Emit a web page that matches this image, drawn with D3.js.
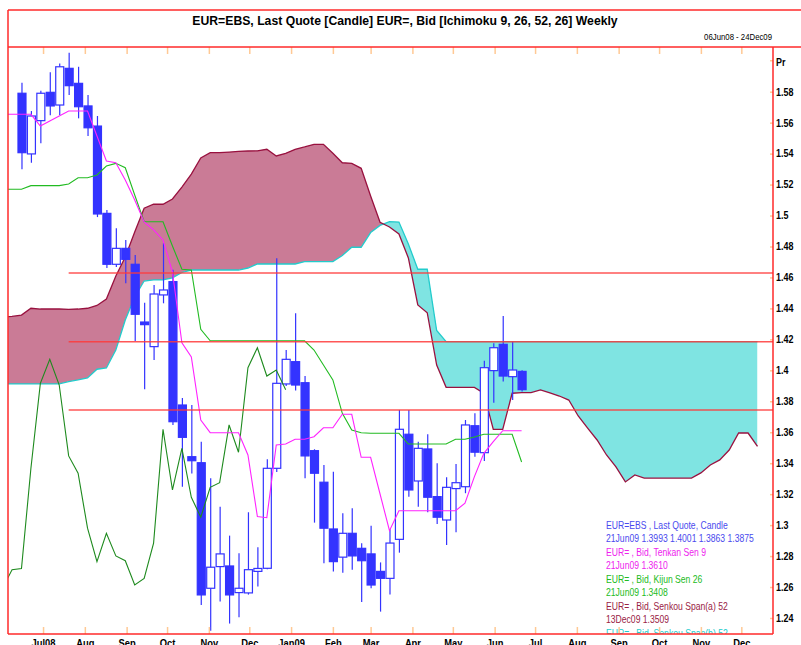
<!DOCTYPE html>
<html><head><meta charset="utf-8">
<script src="https://cdn.jsdelivr.net/npm/d3@7"></script>
<style>
body{margin:0;background:#fff}
svg{display:block}
text{font-family:'Liberation Sans',Arial,sans-serif}
</style>
</head><body>
<svg id="c" width="801" height="645"></svg>
<script>
// ---------- DATA ----------
const titleText = "EUR=EBS, Last Quote [Candle] EUR=, Bid [Ichimoku 9, 26, 52, 26] Weekly";
const rangeText = "06Jun08 - 24Dec09";
const firstCandle = "2008-06-15";      // weekly candles
const firstIndicator = "2008-06-01";   // indicator series start (two weeks earlier)
const chikouShift = 25;                // lagging span plotted 25 weeks back

const candleOpen  = [1.5790,1.5398,1.5613,1.5796,1.5714,1.5951,1.5854,1.5708,1.5578,1.5014,1.4685,1.4788,1.4685,1.4312,1.4153,1.4487,1.4573,1.3776,1.3442,1.3403,1.2592,1.2732,1.2736,1.2564,1.2562,1.2701,1.2721,1.3367,1.3912,1.4056,1.3920,1.3481,1.3277,1.2975,1.2793,1.2947,1.2850,1.2814,1.2701,1.2656,1.2908,1.3587,1.3285,1.3492,1.3184,1.3033,1.3236,1.3248,1.3642,1.3468,1.3998,1.4168,1.3959,1.3993];
const candleHigh  = [1.5858,1.5675,1.5806,1.5925,1.5983,1.6052,1.5961,1.5779,1.5643,1.5036,1.4918,1.4842,1.4745,1.4437,1.4551,1.4821,1.4649,1.3821,1.3776,1.3539,1.3302,1.3119,1.2932,1.2818,1.3083,1.2857,1.3425,1.4724,1.4131,1.4368,1.3963,1.3490,1.3388,1.3345,1.3076,1.3109,1.2883,1.2996,1.2759,1.2973,1.3744,1.3744,1.3539,1.3587,1.3399,1.3309,1.3395,1.3679,1.3722,1.4062,1.4175,1.4351,1.4185,1.4001];
const candleLow   = [1.5299,1.5341,1.5467,1.5648,1.5649,1.5779,1.5628,1.5514,1.4990,1.4661,1.4668,1.4562,1.4190,1.3878,1.4067,1.4433,1.3647,1.3248,1.3334,1.2484,1.2318,1.2506,1.2364,1.2405,1.2551,1.2603,1.2715,1.3343,1.3899,1.3870,1.3303,1.3016,1.2753,1.2700,1.2693,1.2711,1.2503,1.2592,1.2441,1.2551,1.2822,1.3184,1.3119,1.3083,1.3007,1.2872,1.2954,1.3206,1.3442,1.3414,1.3791,1.3927,1.3808,1.3863];
const candleClose = [1.5406,1.5643,1.5790,1.5708,1.5961,1.5839,1.5703,1.5567,1.5010,1.4685,1.4788,1.4717,1.4362,1.4295,1.4493,1.4519,1.3668,1.3567,1.3416,1.2549,1.2728,1.2814,1.2549,1.2592,1.2712,1.2720,1.3367,1.3916,1.4071,1.3905,1.3447,1.3335,1.2980,1.2764,1.2947,1.2801,1.2770,1.2613,1.2656,1.2884,1.3619,1.3227,1.3496,1.3180,1.3051,1.3244,1.3274,1.3647,1.3471,1.4017,1.4146,1.3963,1.4002,1.3875];

// Indicators, weekly from 2008-06-01
const tenkan = [1.5654,1.5654,1.5654,1.5654,1.5578,1.5611,1.5643,1.5675,1.5675,1.5675,
  1.5514,1.5352,1.5341,1.5230,1.5100,1.4958,1.4907,1.4842,1.4635,1.4177,
  1.4086,1.3679,1.3597,1.3597,1.3597,1.3597,1.3453,1.3055,1.3048,1.3518,
  1.3524,1.3555,1.3555,1.3571,1.3629,1.3629,1.3716,1.3716,1.3438,1.3438,
  1.3201,1.2964,1.3093,1.3093,1.3093,1.3093,1.3093,1.3093,1.3093,1.3141,
  1.3313,1.3464,1.3539,1.3610,1.3610,1.3610];
const kijun = [1.5170,1.5170,1.5170,1.5193,1.5193,1.5193,1.5193,1.5204,1.5244,1.5244,
  1.5262,1.5320,1.5337,1.5309,1.5133,1.4960,1.4960,1.4960,1.4803,1.4653,
  1.4648,1.4265,1.4191,1.4191,1.4191,1.4191,1.4191,1.4191,1.4191,1.4191,
  1.4191,1.4191,1.4191,1.4131,1.4034,1.3938,1.3722,1.3615,1.3597,1.3593,
  1.3593,1.3593,1.3593,1.3524,1.3524,1.3524,1.3524,1.3524,1.3555,1.3555,
  1.3569,1.3587,1.3587,1.3587,1.3587,1.3408];
const spanA = [1.4345,1.4348,1.4357,1.4401,1.4396,1.4396,1.4396,1.4394,1.4396,1.4401,
  1.4419,1.4461,1.4609,1.4732,1.4894,1.5047,1.5073,1.5073,1.5107,1.5184,
  1.5268,1.5372,1.5406,1.5407,1.5410,1.5414,1.5417,1.5418,1.5428,1.5385,
  1.5402,1.5428,1.5443,1.5460,1.5460,1.5402,1.5341,1.5337,1.5305,1.5126,
  1.4956,1.4926,1.4881,1.4726,1.4422,1.4372,1.4034,1.3890,1.3890,1.3890,
  1.3890,1.3852,1.3619,1.3619,1.3852,1.3856,1.3856,1.3873,1.3854,1.3834,
  1.3808,1.3705,1.3627,1.3550,1.3453,1.3376,1.3279,1.3324,1.3304,1.3304,
  1.3304,1.3304,1.3304,1.3304,1.3337,1.3388,1.3421,1.3485,1.3595,1.3595,
  1.3509];
const spanB = [1.3912,1.3912,1.3912,1.3912,1.3912,1.3912,1.3912,1.3927,1.3938,1.3951,
  1.4007,1.4015,1.4131,1.4325,1.4474,1.4577,1.4584,1.4584,1.4597,1.4632,
  1.4648,1.4648,1.4648,1.4648,1.4648,1.4648,1.4661,1.4687,1.4687,1.4687,
  1.4687,1.4687,1.4702,1.4702,1.4702,1.4702,1.4742,1.4795,1.4795,1.4890,
  1.4936,1.4960,1.4958,1.4816,1.4653,1.4653,1.4257,1.4185,1.4185,1.4185,
  1.4185,1.4185,1.4185,1.4185,1.4185,1.4185,1.4185,1.4185,1.4185,1.4185,
  1.4185,1.4185,1.4185,1.4185,1.4185,1.4185,1.4185,1.4185,1.4185,1.4185,
  1.4185,1.4185,1.4185,1.4185,1.4185,1.4185,1.4185,1.4185,1.4185,1.4185,
  1.4185];

const levelLines = [1.4629, 1.4185, 1.3744];
const levelStart = "2008-07-20";

const priceTicks = [1.24,1.26,1.28,1.30,1.32,1.34,1.36,1.38,1.40,1.42,1.44,1.46,1.48,1.50,1.52,1.54,1.56,1.58];
const priceLabels = ["1.24","1.26","1.28","1.3","1.32","1.34","1.36","1.38","1.4","1.42","1.44","1.46","1.48","1.5","1.52","1.54","1.56","1.58"];
const monthTicks = ["2008-07-01","2008-08-01","2008-09-01","2008-10-01","2008-11-01","2008-12-01","2009-01-01","2009-02-01","2009-03-01","2009-04-01","2009-05-01","2009-06-01","2009-07-01","2009-08-01","2009-09-01","2009-10-01","2009-11-01","2009-12-01"];
const monthLabels = ["Jul08","Aug","Sep","Oct","Nov","Dec","Jan09","Feb","Mar","Apr","May","Jun","Jul","Aug","Sep","Oct","Nov","Dec"];

const legendLines = [
  ["EUR=EBS , Last Quote, Candle", "#4a4aee"],
  ["21Jun09 1.3993 1.4001 1.3863 1.3875", "#4a4aee"],
  ["EUR= , Bid, Tenkan Sen 9", "#ee22ee"],
  ["21Jun09 1.3610", "#ee22ee"],
  ["EUR= , Bid, Kijun Sen 26", "#22bb22"],
  ["21Jun09 1.3408", "#22bb22"],
  ["EUR= , Bid, Senkou Span(a) 52", "#992244"],
  ["13Dec09 1.3509", "#992244"],
  ["EUR= , Bid, Senkou Span(b) 52", "#22cccc"]
];

// ---------- CHART ----------
const svg = d3.select("#c");
const P = {l:8, r:773, t:47, b:634};
const parse = d3.timeParse("%Y-%m-%d");
const x = d3.scaleTime().domain([new Date(2008,5,5), new Date(2009,11,24,12)]).range([P.l, P.r]);
const y = d3.scaleLinear().domain([1.22965, 1.60888]).range([P.b, P.t]);

// horizontally condense text (narrow face look)
function squeeze(sel, sx){
  sel.each(function(){
    const t = d3.select(this);
    const tx = +t.attr("x") || 0, ty = +t.attr("y") || 0;
    t.attr("transform", `translate(${tx},${ty}) scale(${sx},1)`).attr("x",0).attr("y",0);
  });
}

const c0 = parse(firstCandle), i0 = parse(firstIndicator);
const candles = candleOpen.map((o,i)=>({d:d3.timeWeek.offset(c0,i), o, h:candleHigh[i], l:candleLow[i], c:candleClose[i]}));
const ind = (arr)=>arr.map((v,i)=>({d:d3.timeWeek.offset(i0,i), v}));
const cloud = spanA.map((a,i)=>({d:d3.timeWeek.offset(i0,i), a, b:spanB[i]}));
const chikou = candles.map(k=>({d:d3.timeWeek.offset(k.d,-chikouShift), v:k.c}));

const defs = svg.append("defs");
defs.append("clipPath").attr("id","plotClip").append("rect")
  .attr("x",P.l).attr("y",P.t).attr("width",P.r-P.l).attr("height",P.b-P.t);
defs.append("clipPath").attr("id","aboveB").append("path")
  .attr("d", d3.area().x(d=>x(d.d)).y0(0).y1(d=>y(d.b))(cloud));
defs.append("clipPath").attr("id","aboveA").append("path")
  .attr("d", d3.area().x(d=>x(d.d)).y0(0).y1(d=>y(d.a))(cloud));

const g = svg.append("g").attr("clip-path","url(#plotClip)");

// cloud
const between = d3.area().x(d=>x(d.d)).y0(d=>y(d.b)).y1(d=>y(d.a));
g.append("path").attr("d",between(cloud)).attr("fill","#ca7b96").attr("clip-path","url(#aboveB)");
g.append("path").attr("d",between(cloud)).attr("fill","#7fe4e2").attr("clip-path","url(#aboveA)");
g.append("path").attr("d",d3.line().x(d=>x(d.d)).y(d=>y(d.b))(cloud))
  .attr("fill","none").attr("stroke","#22cccc").attr("stroke-width",1.3);
g.append("path").attr("d",d3.line().x(d=>x(d.d)).y(d=>y(d.a))(cloud))
  .attr("fill","none").attr("stroke","#99113f").attr("stroke-width",1.3);

// candles
const bw = 8;
const cg = g.append("g");
cg.selectAll("line.wick").data(candles).join("line")
  .attr("x1",d=>x(d.d)+0.5).attr("x2",d=>x(d.d)+0.5)
  .attr("y1",d=>y(d.h)).attr("y2",d=>y(d.l))
  .attr("stroke","#3333ff").attr("stroke-width",1.2);
cg.selectAll("rect.body").data(candles).join("rect")
  .attr("x",d=>x(d.d)+0.5-bw/2).attr("width",bw)
  .attr("y",d=>y(Math.max(d.o,d.c))).attr("height",d=>Math.max(1,Math.abs(y(d.o)-y(d.c))))
  .attr("fill",d=>d.c<d.o?"#3333ff":"#ffffff")
  .attr("stroke","#3333ff").attr("stroke-width",1.2);

// lines
const ln = d3.line().x(d=>x(d.d)).y(d=>y(d.v));
g.append("path").attr("d",ln(chikou)).attr("fill","none").attr("stroke","#1e8a1e").attr("stroke-width",1.1);
g.append("path").attr("d",ln(ind(kijun))).attr("fill","none").attr("stroke","#22bb22").attr("stroke-width",1.1);
g.append("path").attr("d",ln(ind(tenkan))).attr("fill","none").attr("stroke","#ff22ff").attr("stroke-width",1.1);

// level lines
g.selectAll("line.lvl").data(levelLines).join("line")
  .attr("x1",x(parse(levelStart))).attr("x2",P.r)
  .attr("y1",d=>y(d)).attr("y2",d=>y(d))
  .attr("stroke","#ff3a3a").attr("stroke-opacity",0.85).attr("stroke-width",1.5);

// legend
const lg = g.selectAll("text.lg").data(legendLines).join("text")
  .attr("x",606).attr("y",(d,i)=>528.5+i*13.5)
  .attr("fill",d=>d[1]).attr("font-size","10.5px").text(d=>d[0]);
squeeze(lg, 0.82);

// axes
const tickCol = "#ffc995";
const yAxis = d3.axisRight(y).tickValues(priceTicks).tickFormat((d,i)=>priceLabels[i]).tickSize(-3).tickPadding(3);
const ya = svg.append("g").attr("transform",`translate(${P.r},0)`).call(yAxis);
ya.select(".domain").remove();
ya.selectAll("line").attr("stroke",tickCol).attr("stroke-width",1.5);
ya.selectAll("text").attr("font-size","10.5px").attr("font-weight","bold").attr("fill","#000").attr("font-family","'Liberation Sans',Arial,sans-serif");
squeeze(ya.selectAll("text"), 0.85);
const pr = svg.append("text").attr("x",P.r+3).attr("y",y(1.60)+5).attr("font-size","10.5px").attr("font-weight","bold").text("Pr");
squeeze(pr, 0.85);
svg.append("line").attr("x1",P.r-3).attr("x2",P.r).attr("y1",y(1.60)).attr("y2",y(1.60)).attr("stroke",tickCol).attr("stroke-width",1.5);

const mDates = monthTicks.map(parse);
const xa = svg.append("g").attr("transform",`translate(0,${P.b})`)
  .call(d3.axisBottom(x).tickValues(mDates).tickFormat((d,i)=>monthLabels[i]).tickSize(-7).tickPadding(5));
xa.select(".domain").remove();
xa.selectAll("line").attr("stroke",tickCol).attr("stroke-width",1.5);
xa.selectAll("text").attr("font-size","11px").attr("font-weight","bold").attr("fill","#000").attr("font-family","'Liberation Sans',Arial,sans-serif");
squeeze(xa.selectAll("text"), 0.85);
const xt = svg.append("g").attr("transform",`translate(0,${P.t})`)
  .call(d3.axisTop(x).tickValues(mDates).tickFormat("").tickSize(-7));
xt.select(".domain").remove();
xt.selectAll("line").attr("stroke",tickCol).attr("stroke-width",1.5);

// frames
const red = "#ff2a2a";
svg.append("line").attr("x1",P.l).attr("x2",801).attr("y1",10).attr("y2",10).attr("stroke",red).attr("stroke-width",1.5);
svg.append("line").attr("x1",P.l).attr("x2",801).attr("y1",P.t).attr("y2",P.t).attr("stroke",red).attr("stroke-width",1.5);
svg.append("line").attr("x1",P.l).attr("x2",P.l).attr("y1",10).attr("y2",P.b).attr("stroke",red).attr("stroke-width",1.5);
svg.append("line").attr("x1",P.r).attr("x2",P.r).attr("y1",P.t).attr("y2",P.b).attr("stroke",red).attr("stroke-width",1.5);
svg.append("line").attr("x1",P.l).attr("x2",P.r).attr("y1",P.b).attr("y2",P.b).attr("stroke",red).attr("stroke-width",1.5);

// title
const tt = svg.append("text").attr("x",405).attr("y",25).attr("text-anchor","middle")
  .attr("font-size","13px").attr("font-weight","bold").text(titleText);
squeeze(tt, 0.94);
const rt = svg.append("text").attr("x",772).attr("y",40).attr("text-anchor","end")
  .attr("font-size","9.5px").text(rangeText);
squeeze(rt, 0.82);
</script>
</body></html>
